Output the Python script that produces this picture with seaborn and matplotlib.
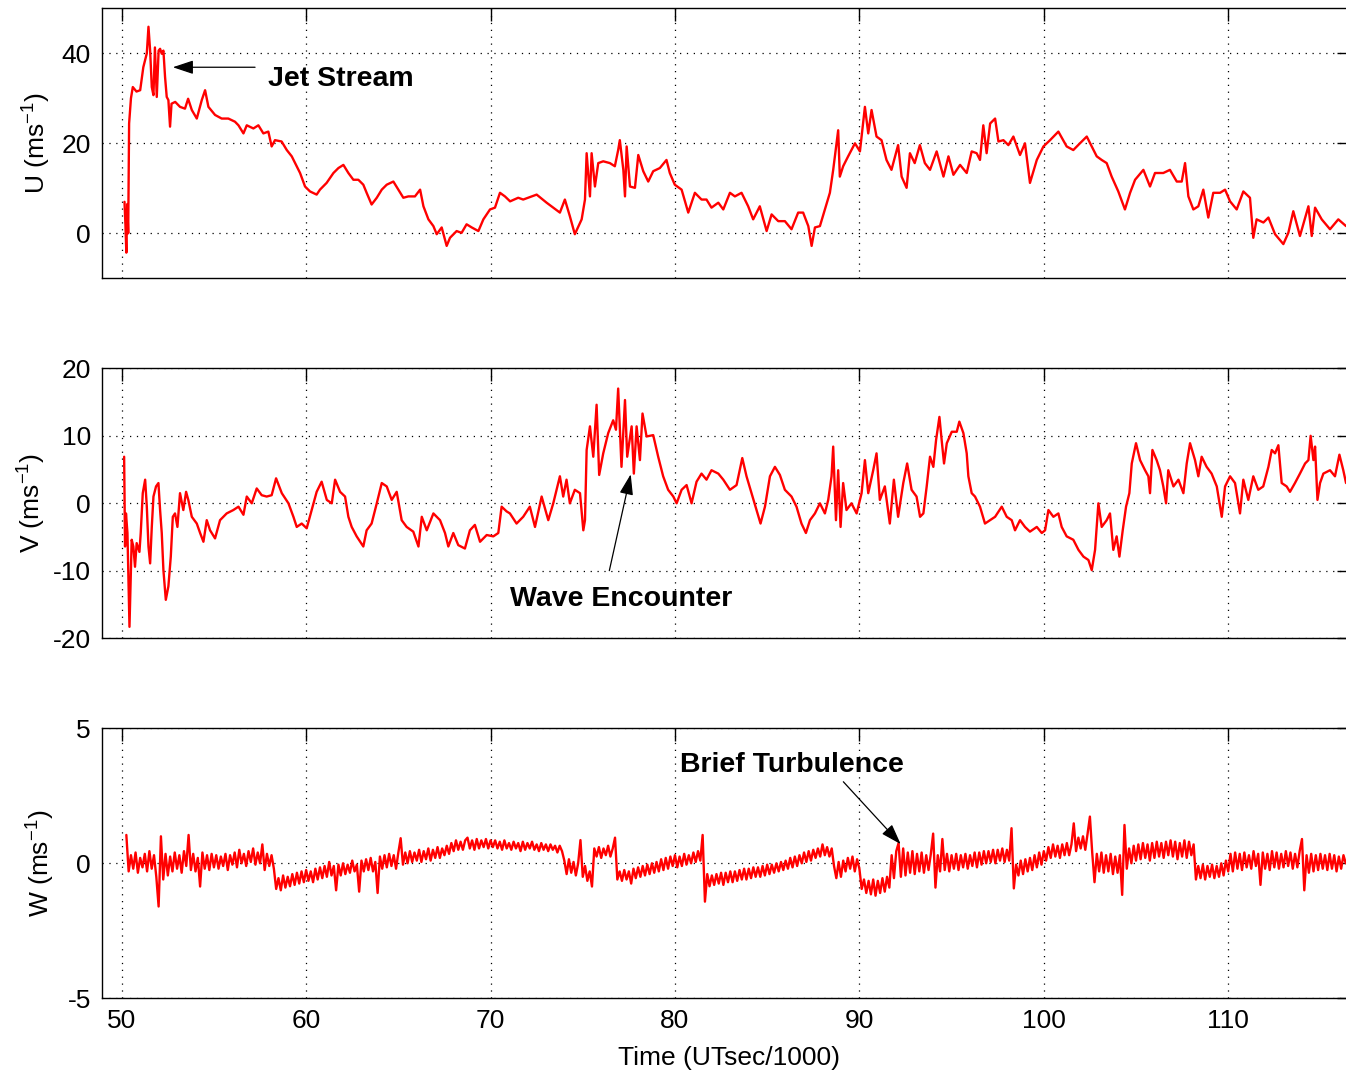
import numpy as np
import matplotlib
matplotlib.use("Agg")
import matplotlib.pyplot as plt
import seaborn as sns

# ---------------- wind components vs. time (UTsec/1000) ----------------
u_time = [
    50.15, 50.2, 50.25, 50.3, 50.35, 50.4, 50.5, 50.6, 50.8, 51.0,
    51.17, 51.36, 51.45, 51.54, 51.63, 51.72, 51.8, 51.9, 52.0, 52.08,
    52.17, 52.26, 52.35, 52.44, 52.53, 52.62, 52.7, 52.9, 53.16, 53.43,
    53.6, 53.8, 54.07, 54.34, 54.52, 54.7, 55.06, 55.42, 55.78, 56.14,
    56.33, 56.6, 56.78, 57.14, 57.41, 57.68, 57.95, 58.13, 58.31, 58.67,
    58.95, 59.22, 59.49, 59.67, 59.94, 60.21, 60.57, 60.75, 61.11, 61.48,
    61.75, 62.02, 62.29, 62.56, 62.83, 63.1, 63.28, 63.55, 63.83, 64.1,
    64.37, 64.73, 65.0, 65.27, 65.54, 65.9, 66.18, 66.36, 66.63, 66.9,
    67.08, 67.35, 67.62, 67.8, 68.16, 68.43, 68.7, 68.98, 69.34, 69.61,
    69.97, 70.24, 70.51, 70.78, 71.06, 71.5, 71.77, 72.5, 73.04, 73.76,
    74.03, 74.3, 74.57, 74.94, 75.12, 75.21, 75.39, 75.48, 75.66, 75.84,
    76.11, 76.47, 76.74, 76.92, 77.01, 77.2, 77.29, 77.38, 77.56, 77.83,
    78.01, 78.28, 78.55, 78.82, 79.18, 79.54, 79.72, 79.99, 80.36, 80.72,
    81.08, 81.44, 81.71, 81.98, 82.35, 82.62, 82.98, 83.25, 83.61, 83.97,
    84.24, 84.6, 84.97, 85.24, 85.6, 85.96, 86.32, 86.68, 86.95, 87.23,
    87.41, 87.59, 87.86, 88.13, 88.4, 88.58, 88.85, 88.94, 89.12, 89.39,
    89.76, 90.03, 90.3, 90.48, 90.66, 90.93, 91.2, 91.47, 91.74, 92.1,
    92.29, 92.56, 92.74, 93.0, 93.28, 93.55, 93.83, 94.19, 94.56, 94.83,
    95.1, 95.46, 95.82, 96.09, 96.36, 96.54, 96.72, 96.9, 97.09, 97.36,
    97.54, 97.81, 98.08, 98.35, 98.71, 98.98, 99.25, 99.62, 99.98, 100.34,
    100.79, 101.24, 101.6, 101.96, 102.33, 102.6, 102.87, 103.14, 103.41, 103.68,
    104.04, 104.4, 104.68, 104.95, 105.4, 105.76, 106.03, 106.48, 106.84, 107.21,
    107.48, 107.66, 107.84, 108.11, 108.38, 108.65, 108.92, 109.19, 109.56, 109.83,
    110.1, 110.46, 110.82, 111.18, 111.36, 111.54, 111.91, 112.18, 112.54, 112.99,
    113.26, 113.53, 113.89, 114.35, 114.53, 114.71, 115.07, 115.52, 115.97, 116.39,
]
u_vals = [
    7.0, 2.0, -4.3, 6.5, 0.0, 24.4, 30.0, 32.5, 31.5, 31.8,
    36.9, 40.0, 45.9, 40.6, 32.5, 30.7, 41.3, 30.3, 40.6, 41.0,
    39.9, 40.6, 34.7, 30.3, 29.6, 23.7, 28.8, 29.2, 28.1, 27.7,
    29.9, 27.4, 25.5, 29.6, 31.8, 28.1, 26.3, 25.5, 25.5, 24.8,
    24.0, 22.2, 24.0, 23.3, 24.0, 22.2, 22.6, 19.3, 20.7, 20.4,
    18.5, 17.1, 14.9, 13.4, 10.4, 9.3, 8.6, 9.7, 11.2, 13.4,
    14.5, 15.2, 13.4, 11.9, 11.9, 10.8, 9.0, 6.4, 7.9, 9.7,
    10.8, 11.5, 9.7, 7.9, 8.2, 8.2, 9.7, 6.0, 3.1, 1.6,
    -0.2, 1.3, -2.8, -1.0, 0.5, 0.1, 2.0, 1.3, 0.5, 3.1,
    5.3, 5.7, 9.0, 8.2, 7.1, 7.9, 7.5, 8.6, 6.8, 4.6,
    7.5, 3.8, -0.2, 3.1, 7.5, 17.8, 8.2, 17.8, 10.4, 15.6,
    16.0, 15.6, 14.9, 18.5, 20.7, 14.1, 8.2, 19.3, 10.4, 10.1,
    17.4, 13.8, 11.5, 13.8, 14.5, 16.3, 13.4, 10.8, 9.7, 4.6,
    9.0, 7.5, 7.5, 5.7, 6.8, 5.3, 9.0, 8.2, 9.0, 6.0,
    3.1, 6.0, 0.5, 4.2, 2.7, 2.7, 0.9, 4.6, 4.6, 1.6,
    -2.8, 1.3, 1.6, 5.3, 9.0, 14.1, 22.9, 12.6, 14.9, 17.1,
    20.0, 18.2, 28.1, 22.2, 27.4, 21.5, 20.7, 16.3, 14.1, 19.6,
    12.6, 10.1, 17.8, 15.6, 19.6, 15.6, 14.1, 18.2, 12.6, 17.1,
    13.0, 15.2, 13.4, 18.2, 17.8, 16.3, 24.0, 17.8, 24.4, 25.5,
    20.4, 20.7, 19.6, 21.5, 17.4, 20.0, 11.2, 16.3, 19.3, 20.7,
    22.6, 19.3, 18.5, 20.0, 21.5, 19.3, 17.1, 16.3, 15.6, 12.6,
    9.3, 5.3, 9.0, 11.9, 14.1, 10.4, 13.4, 13.4, 14.1, 11.5,
    11.5, 15.6, 8.2, 5.3, 6.0, 9.7, 3.5, 9.0, 9.0, 9.7,
    7.1, 5.3, 9.3, 7.9, -1.0, 3.1, 2.4, 3.5, -0.2, -2.4,
    0.1, 4.9, -0.6, 6.0, -0.6, 5.7, 3.1, 0.9, 3.1, 1.6,
]

v_time = [
    50.13, 50.18, 50.23, 50.31, 50.42, 50.49, 50.54, 50.63, 50.72, 50.81,
    50.96, 51.03, 51.14, 51.27, 51.36, 51.45, 51.54, 51.63, 51.72, 51.86,
    51.99, 52.08, 52.17, 52.26, 52.39, 52.53, 52.66, 52.77, 52.89, 53.02,
    53.16, 53.34, 53.49, 53.61, 53.8, 54.07, 54.25, 54.43, 54.61, 54.79,
    55.06, 55.33, 55.69, 56.05, 56.33, 56.6, 56.78, 57.05, 57.32, 57.59,
    57.86, 58.13, 58.37, 58.68, 59.04, 59.31, 59.49, 59.76, 60.03, 60.3,
    60.57, 60.84, 61.12, 61.39, 61.57, 61.84, 62.11, 62.29, 62.47, 62.74,
    63.1, 63.28, 63.55, 63.83, 64.1, 64.37, 64.64, 64.91, 65.18, 65.45,
    65.81, 66.09, 66.27, 66.54, 66.9, 67.26, 67.53, 67.71, 67.98, 68.25,
    68.61, 68.88, 69.15, 69.43, 69.79, 70.15, 70.42, 70.6, 70.87, 71.05,
    71.41, 71.77, 72.13, 72.41, 72.77, 73.13, 73.4, 73.76, 73.94, 74.12,
    74.3, 74.57, 74.85, 75.03, 75.12, 75.21, 75.39, 75.57, 75.75, 75.89,
    76.11, 76.38, 76.65, 76.8, 76.92, 77.1, 77.29, 77.41, 77.65, 77.77,
    77.92, 78.1, 78.24, 78.46, 78.82, 79.09, 79.36, 79.63, 79.91, 80.09,
    80.36, 80.63, 80.9, 81.17, 81.44, 81.71, 81.98, 82.35, 82.62, 82.98,
    83.34, 83.65, 83.88, 84.15, 84.42, 84.64, 84.88, 85.15, 85.42, 85.69,
    85.96, 86.32, 86.59, 86.86, 87.1, 87.32, 87.59, 87.86, 88.13, 88.31,
    88.49, 88.58, 88.73, 88.85, 88.98, 89.12, 89.3, 89.57, 89.85, 90.12,
    90.3, 90.48, 90.75, 90.93, 91.11, 91.38, 91.65, 91.87, 92.1, 92.38,
    92.59, 92.83, 93.1, 93.29, 93.47, 93.65, 93.83, 94.01, 94.16, 94.34,
    94.46, 94.59, 94.74, 95.01, 95.28, 95.42, 95.64, 95.82, 95.91, 96.09,
    96.27, 96.54, 96.81, 97.09, 97.36, 97.72, 97.99, 98.26, 98.44, 98.71,
    98.98, 99.25, 99.62, 99.89, 100.07, 100.25, 100.52, 100.79, 100.97, 101.24,
    101.6, 101.88, 102.15, 102.42, 102.6, 102.78, 102.96, 103.14, 103.41, 103.59,
    103.77, 103.95, 104.1, 104.28, 104.46, 104.64, 104.77, 105.0, 105.22, 105.49,
    105.67, 105.76, 105.89, 106.12, 106.3, 106.48, 106.63, 106.75, 107.03, 107.3,
    107.57, 107.75, 107.93, 108.2, 108.38, 108.56, 108.83, 109.1, 109.38, 109.65,
    109.83, 110.1, 110.37, 110.64, 110.82, 111.09, 111.36, 111.63, 111.9, 112.18,
    112.36, 112.54, 112.72, 112.9, 113.17, 113.35, 113.62, 113.89, 114.17, 114.35,
    114.47, 114.62, 114.71, 114.84, 114.98, 115.16, 115.52, 115.79, 116.03, 116.24,
    116.39,
]
v_vals = [
    6.9, -6.4, -1.5, -4.4, -18.3, -10.4, -5.4, -6.4, -9.4, -5.9,
    -7.2, -4.4, 1.5, 3.5, -0.5, -6.4, -8.9, -3.5, 1.0, 2.5,
    3.0, -1.0, -4.4, -9.9, -14.3, -12.3, -7.9, -2.0, -1.5, -3.5,
    1.5, -1.0, 1.7, 0.5, -2.0, -3.0, -4.4, -5.7, -2.5, -4.0,
    -5.2, -2.5, -1.5, -1.0, -0.5, -1.7, 1.0, 0.0, 2.2, 1.2,
    1.0, 1.2, 3.7, 1.5, 0.0, -2.0, -3.5, -3.0, -3.7, -1.0,
    1.7, 3.2, 0.5, 0.0, 3.5, 1.7, 1.0, -2.0, -3.5, -4.9,
    -6.4, -4.0, -3.0, 0.0, 3.0, 2.5, 0.5, 1.7, -2.5, -3.5,
    -4.2, -6.4, -2.0, -4.0, -1.5, -2.5, -4.4, -6.4, -4.4, -6.2,
    -6.7, -4.0, -3.2, -5.7, -4.7, -4.9, -4.4, -0.5, -1.2, -1.5,
    -3.0, -2.0, -0.5, -3.5, 1.0, -2.5, 0.0, 4.0, 1.0, 3.5,
    0.0, 2.0, 1.5, -4.0, -2.5, 7.9, 11.4, 6.9, 14.6, 4.2,
    7.4, 10.4, 12.3, 10.9, 17.0, 5.4, 15.3, 6.9, 11.4, 4.4,
    11.4, 6.4, 13.3, 9.9, 10.1, 6.9, 4.0, 2.0, 1.0, 0.0,
    2.0, 2.7, 0.0, 3.2, 4.4, 3.5, 4.9, 4.4, 3.5, 2.0,
    2.7, 6.7, 4.0, 1.5, -1.0, -3.0, -0.5, 4.0, 5.4, 4.2,
    2.0, 1.0, -0.5, -3.0, -4.4, -2.5, -1.5, 0.0, -1.5, 0.5,
    4.0, 8.4, -2.5, 4.9, -3.5, 3.0, -1.0, 0.0, -1.5, 1.5,
    6.4, 1.5, 4.9, 7.4, 0.5, 2.5, -3.0, 3.5, -2.0, 3.0,
    5.9, 2.0, 1.0, -2.0, -1.5, 2.5, 6.9, 5.4, 9.4, 12.8,
    9.4, 5.9, 8.9, 10.6, 10.6, 12.1, 10.4, 7.4, 4.0, 1.5,
    1.0, -0.5, -3.0, -2.5, -2.0, -0.5, -2.0, -2.5, -4.0, -2.5,
    -3.5, -4.2, -3.5, -4.4, -4.0, -1.0, -2.0, -1.5, -3.5, -4.9,
    -5.4, -6.9, -7.9, -8.4, -9.9, -6.9, 0.0, -3.5, -2.5, -1.5,
    -6.9, -4.9, -7.9, -4.0, -0.5, 1.5, 5.9, 8.9, 6.4, 4.9,
    4.0, 1.5, 7.9, 6.4, 4.9, 2.5, 0.0, 4.9, 2.5, 3.5,
    1.5, 5.9, 8.9, 6.4, 4.0, 6.9, 5.4, 4.4, 2.5, -2.0,
    2.5, 4.0, 3.0, -1.5, 3.5, 0.5, 4.0, 2.0, 2.5, 5.4,
    7.9, 7.4, 8.6, 3.0, 2.5, 1.7, 3.0, 4.4, 5.9, 6.4,
    10.0, 6.4, 8.4, 0.5, 3.0, 4.4, 4.9, 4.0, 7.2, 4.9,
    3.0,
]

# vertical wind, sampled every 0.125 from t = 50.25 (one row = 5 time units)
w_start, w_step = 50.25, 0.125
w_vals = [
    # 50.25 - 55.125
    1.05, -0.3, 0.3, -0.2, 0.4, -0.35, 0.2, -0.15, 0.35, -0.3,
    0.45, -0.2, 0.3, -0.5, -1.6, 1.0, -0.6, 0.35, -0.45, 0.25,
    -0.3, 0.4, -0.2, 0.3, -0.35, 0.45, -0.1, 1.05, -0.25, 0.35,
    -0.3, 0.2, -0.86, 0.4, -0.2, 0.3, -0.25, 0.35, -0.15, 0.3,
    # 55.25 - 60.125
    -0.2, 0.25, -0.1, 0.35, -0.25, 0.3, -0.05, 0.4, -0.15, 0.5,
    0.0, 0.35, -0.1, 0.45, 0.05, 0.55, -0.05, 0.4, 0.0, 0.7,
    -0.25, 0.35, -0.1, 0.3, -0.2, -0.95, -0.55, -1.0, -0.45, -0.9,
    -0.5, -0.85, -0.4, -0.8, -0.35, -0.75, -0.3, -0.7, -0.25, -0.65,
    # 60.25 - 65.125
    -0.3, -0.7, -0.2, -0.6, -0.15, -0.55, -0.1, -0.5, 0.05, -0.45,
    -0.1, -1.0, -0.05, -0.45, 0.0, -0.4, -0.05, -0.35, 0.1, -0.3,
    -0.05, -1.05, 0.1, -0.3, 0.15, -0.25, 0.2, -0.3, 0.05, -1.1,
    0.25, -0.2, 0.3, -0.15, 0.35, -0.1, 0.3, -0.2, 0.4, 0.93,
    # 65.25 - 70.125
    -0.05, 0.4, 0.0, 0.45, 0.05, 0.4, 0.1, 0.5, 0.05, 0.45,
    0.15, 0.55, 0.1, 0.5, 0.2, 0.6, 0.2, 0.55, 0.3, 0.65,
    0.35, 0.75, 0.45, 0.85, 0.5, 0.8, 0.5, 0.85, 0.95, 0.55,
    0.85, 0.5, 0.9, 0.55, 0.85, 0.6, 0.9, 0.55, 0.85, 0.6,
    # 70.25 - 75.125
    0.85, 0.55, 0.8, 0.5, 0.85, 0.55, 0.75, 0.5, 0.8, 0.55,
    0.75, 0.45, 0.8, 0.5, 0.75, 0.55, 0.8, 0.5, 0.7, 0.45,
    0.75, 0.5, 0.7, 0.45, 0.7, 0.5, 0.65, 0.4, 0.65, 0.45,
    0.1, -0.4, 0.15, -0.35, 0.05, -0.45, 0.0, 0.86, -0.5, -0.1,
    # 75.25 - 80.125
    -0.65, -0.3, -0.86, 0.55, 0.25, 0.6, 0.2, 0.55, 0.3, 0.65,
    0.25, 0.55, 0.95, -0.6, -0.3, -0.65, -0.25, -0.6, -0.3, -0.75,
    -0.2, -0.55, -0.15, -0.5, -0.1, -0.45, -0.05, -0.4, 0.0, -0.35,
    0.05, -0.3, 0.15, -0.25, 0.2, -0.2, 0.25, -0.1, 0.3, -0.15,
    # 80.25 - 85.125
    0.25, -0.1, 0.35, -0.05, 0.3, 0.0, 0.4, 0.05, 0.45, 0.1,
    1.05, -1.42, -0.4, -0.85, -0.45, -0.8, -0.4, -0.75, -0.35, -0.8,
    -0.35, -0.7, -0.3, -0.7, -0.3, -0.65, -0.25, -0.6, -0.2, -0.6,
    -0.2, -0.55, -0.15, -0.5, -0.15, -0.5, -0.1, -0.45, -0.05, -0.4,
    # 85.25 - 90.125
    -0.05, -0.35, 0.0, -0.3, 0.05, -0.25, 0.1, -0.2, 0.2, -0.15,
    0.25, -0.1, 0.3, 0.0, 0.4, 0.05, 0.45, 0.1, 0.5, 0.2,
    0.55, 0.25, 0.7, 0.3, 0.6, 0.25, 0.55, -0.1, -0.55, 0.05,
    -0.5, 0.1, -0.3, 0.2, -0.2, 0.25, -0.3, 0.15, -0.2, -0.95,
    # 90.25 - 95.125
    -0.6, -1.1, -0.65, -1.15, -0.6, -1.2, -0.65, -1.1, -0.55, -1.05,
    -0.5, -0.9, 0.3, -0.55, 0.45, 0.75, -0.5, 0.55, -0.45, 0.4,
    -0.35, 0.45, -0.4, 0.35, -0.3, 0.4, -0.35, 0.3, -0.25, 0.35,
    1.1, -0.9, 0.3, -0.3, 0.9, -0.25, 0.35, -0.3, 0.3, -0.2,
    # 95.25 - 100.125
    0.35, -0.25, 0.3, -0.15, 0.35, -0.2, 0.3, -0.1, 0.4, -0.15,
    0.4, -0.05, 0.45, 0.0, 0.45, 0.05, 0.5, 0.0, 0.5, 0.1,
    0.55, 0.05, 0.5, 0.1, 1.3, -0.93, -0.05, -0.45, 0.1, -0.4,
    0.15, -0.3, 0.2, -0.25, 0.3, -0.15, 0.4, -0.05, 0.45, 0.1,
    # 100.25 - 105.125
    0.6, 0.2, 0.7, 0.25, 0.65, 0.2, 0.7, 0.3, 0.75, 0.3,
    0.7, 1.48, 0.45, 0.95, 0.55, 1.0, 0.5, 1.1, 1.73, 0.4,
    -0.7, 0.35, -0.3, 0.4, -0.35, 0.3, -0.3, 0.35, -0.4, 0.25,
    -0.35, 0.3, -1.17, 1.42, -0.2, 0.55, 0.0, 0.65, 0.1, 0.7,
    # 105.25 - 110.125
    0.15, 0.75, 0.2, 0.7, 0.1, 0.75, 0.2, 0.8, 0.25, 0.75,
    0.2, 0.8, 0.3, 0.85, 0.25, 0.8, 0.15, 0.75, 0.25, 0.85,
    0.2, 0.8, 0.3, 0.7, -0.6, -0.1, -0.55, -0.05, -0.6, -0.1,
    -0.5, -0.05, -0.55, -0.1, -0.5, 0.0, -0.45, 0.1, -0.3, 0.35,
    # 110.25 - 115.125
    -0.3, 0.4, -0.2, 0.35, -0.25, 0.4, -0.15, 0.3, -0.2, 0.45,
    -0.1, 0.35, -0.8, 0.4, -0.2, 0.35, -0.25, 0.45, -0.15, 0.4,
    -0.2, 0.35, -0.15, 0.45, -0.1, 0.4, -0.2, 0.35, -0.15, 0.45,
    0.9, -1.0, 0.3, -0.35, 0.35, -0.3, 0.3, -0.25, 0.35, -0.2,
    # 115.25 - 116.375
    0.3, -0.25, 0.35, -0.2, 0.3, -0.3, 0.25, -0.2, 0.3, 0.0,
]
w_time = w_start + w_step * np.arange(len(w_vals))

x_ticks = [50, 60, 70, 80, 90, 100, 110]
y_ticks = [[0, 20, 40], [-20, -10, 0, 10, 20], [-5, 0, 5]]
y_limits = [(-10, 50), (-20, 20), (-5, 5)]
y_labels = ["U (ms$^{-1}$)", "V (ms$^{-1}$)", "W (ms$^{-1}$)"]

# ---------------- styling ----------------
sns.set_theme(style="white")
plt.rcParams["font.family"] = ["Liberation Sans", "DejaVu Sans"]
plt.rcParams["mathtext.fontset"] = "custom"
plt.rcParams["mathtext.rm"] = "Liberation Sans"
plt.rcParams["mathtext.it"] = "Liberation Sans:italic"
plt.rcParams["axes.unicode_minus"] = False

W_PX, H_PX = 1346, 1080
fig = plt.figure(figsize=(W_PX / 100, H_PX / 100), dpi=100)

left = 102 / W_PX
width = (1349 - 102) / W_PX
tops = [8.3, 368.3, 728.3]
height = 270 / H_PX
xlim = (48.93, 116.55)

axes = []
for top in tops:
    ax = fig.add_axes([left, 1 - top / H_PX - height, width, height])
    axes.append(ax)

series = [(u_time, u_vals), (v_time, v_vals), (w_time, w_vals)]
line_w = [1.7, 1.7, 1.7]
label_x = [-0.039, -0.043, -0.036]

for i, (ax, (t, v)) in enumerate(zip(axes, series)):
    sns.lineplot(x=np.asarray(t), y=np.asarray(v), ax=ax, color="#ff0000",
                 linewidth=line_w[i], estimator=None, sort=False)
    ax.set_xlim(*xlim)
    ax.set_ylim(*y_limits[i])
    ax.set_xticks(x_ticks)
    ax.set_yticks(y_ticks[i])
    ax.grid(True, color="black", linestyle=(0, (1, 4.5)), linewidth=0.9)
    for s in ax.spines.values():
        s.set_color("black")
        s.set_linewidth(1.0)
        s.set_visible(True)
    ax.tick_params(direction="in", length=9, width=1, top=True, right=True,
                   labelsize=19, colors="black", pad=8)
    ax.set_ylabel(y_labels[i], fontsize=19, color="black")
    ax.yaxis.set_label_coords(label_x[i], 0.5)
    if i < 2:
        ax.tick_params(labelbottom=False)
        ax.set_xlabel("")
    else:
        ax.set_xlabel("Time (UTsec/1000)", fontsize=19, color="black")
        ax.xaxis.set_label_coords((729 - 102) / 1247, -0.177)

arrow_kw = dict(arrowstyle="-|>,head_length=0.9,head_width=0.3",
                mutation_scale=14, color="black", lw=0.9,
                shrinkA=0, shrinkB=0)

# annotations
ax_u, ax_v, ax_w = axes
ax_u.annotate("", xy=(52.77, 36.9), xytext=(57.23, 36.9), arrowprops=arrow_kw)
ax_u.text(57.93, 34.3, "Jet Stream", fontsize=20.5, fontweight="bold",
          ha="left", va="center", color="black")

ax_v.annotate("", xy=(77.6, 4.3), xytext=(76.44, -9.98), arrowprops=arrow_kw)
ax_v.text(71.05, -14.2, "Wave Encounter", fontsize=20.5, fontweight="bold",
          ha="left", va="center", color="black")

ax_w.annotate("", xy=(92.24, 0.71), xytext=(89.13, 3.02), arrowprops=arrow_kw)
ax_w.text(80.27, 3.64, "Brief Turbulence", fontsize=20.5, fontweight="bold",
          ha="left", va="center", color="black")

fig.savefig("out.png", dpi=100, facecolor="white")
